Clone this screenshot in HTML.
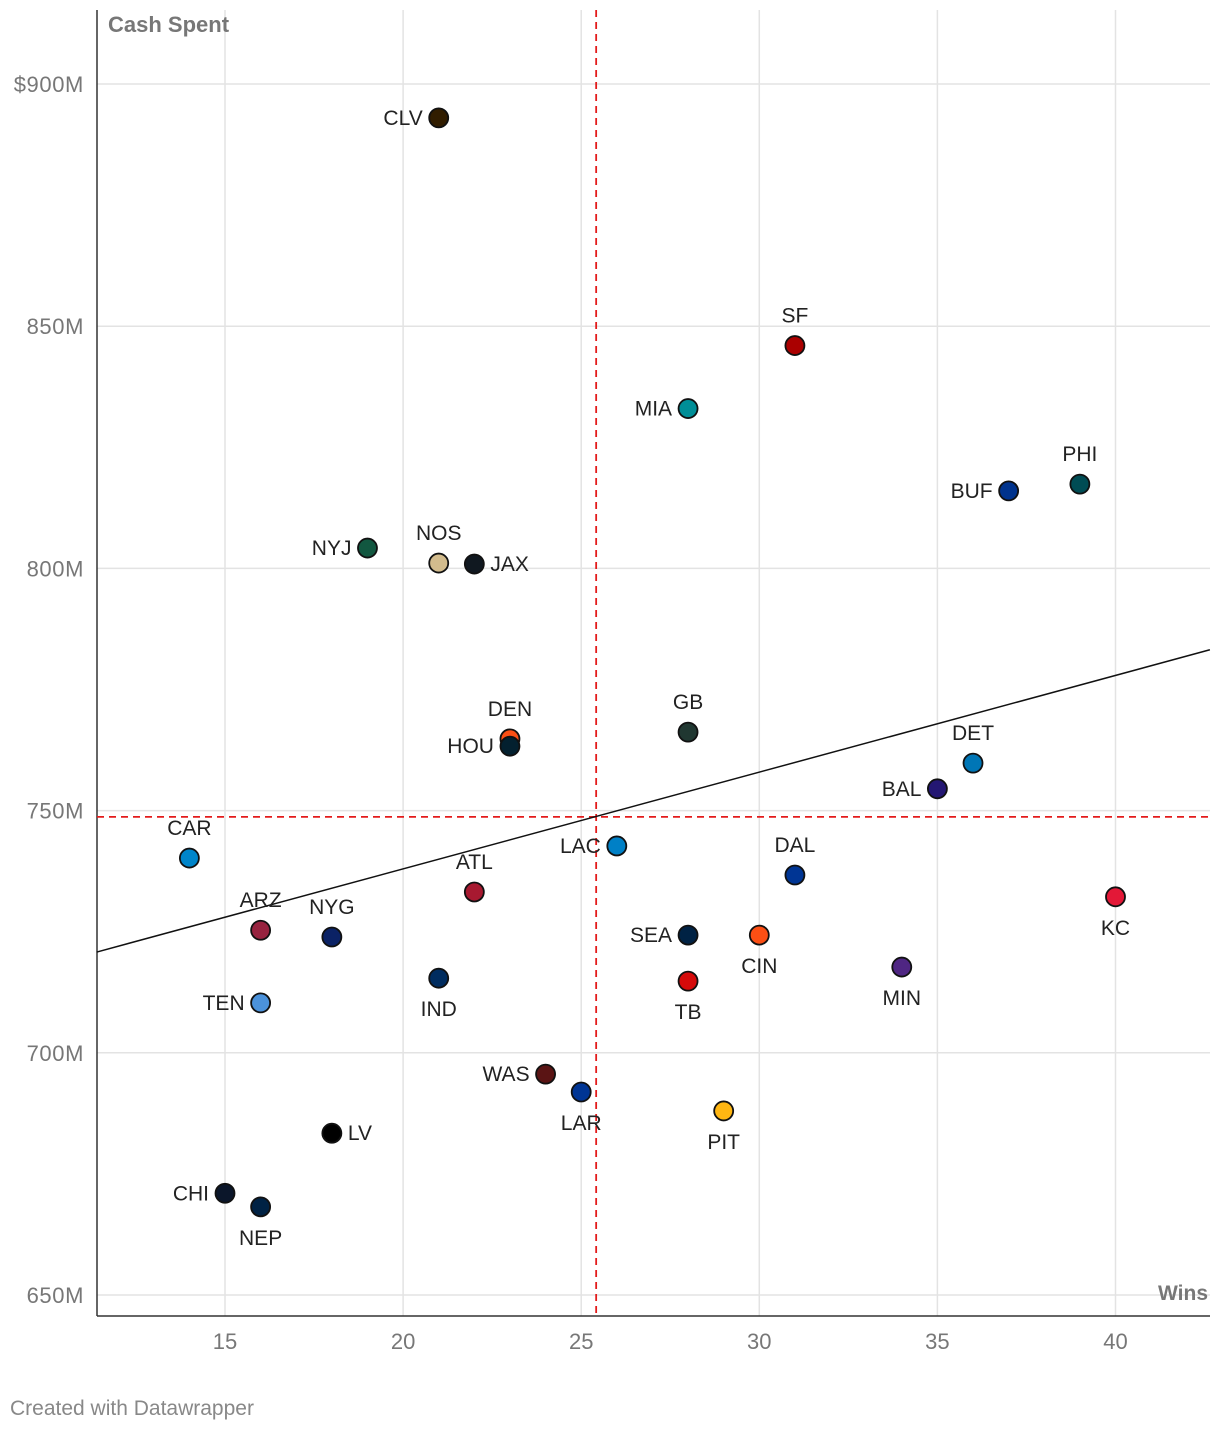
<!DOCTYPE html>
<html><head><meta charset="utf-8">
<style>
html,body{margin:0;padding:0;background:#fff;}
body{width:1220px;height:1432px;overflow:hidden;font-family:"Liberation Sans",Arial,sans-serif;}
svg text{font-family:"Liberation Sans",Arial,sans-serif;}
</style></head>
<body>
<svg id="chart" width="1220" height="1432"></svg>
<script>
const teams=["CLV","SF","MIA","PHI","BUF","NYJ","NOS","JAX","GB","DEN","HOU","DET","BAL","CAR","LAC","DAL","KC","ATL","ARZ","NYG","SEA","CIN","MIN","IND","TB","TEN","WAS","LAR","PIT","LV","CHI","NEP"];
const wins=[21,31,28,39,37,19,21,22,28,23,23,36,35,14,26,31,40,22,16,18,28,30,34,21,28,16,24,25,29,18,15,16];
const cash=[893,846,833,817.4,816,804.2,801.1,800.9,766.2,764.8,763.3,759.8,754.5,740.2,742.7,736.7,732.2,733.2,725.3,723.9,724.3,724.3,717.7,715.4,714.8,710.3,695.6,691.9,688,683.4,671,668.2];
const colors=["#311d00","#aa0000","#008e97","#004c54","#00338d","#125740","#d3bc8d","#101820","#203731","#fb4f14","#03202f","#0076b6","#241773","#0085ca","#0080c6","#003594","#e31837","#a71930","#97233f","#0b2265","#002244","#fb4f14","#4f2683","#002c5f","#d50a0a","#4b92db","#5a1414","#003594","#ffb612","#000000","#0b162a","#002244"];
const labelPos=["l","t","l","t","l","l","t","r","t","t","l","t","l","t","l","t","b","t","t","t","l","b","b","b","b","l","l","b","b","r","l","b"];
const xTicks=[15,20,25,30,35,40];
const yTicks=[650,700,750,800,850,900];
const yTickLabels=["650M","700M","750M","800M","850M","$900M"];
const trend=[[11.4,720.8],[42.65,783.2]];
const meanWins=25.42, meanCash=748.7;

const X=v=>225+(v-15)*35.62;
const Y=v=>84+(900-v)*4.844;
const L=97,R=1210,T=10,B=1316;
const svg=document.getElementById('chart');
const NS="http://www.w3.org/2000/svg";
function mk(tag,attrs,txt){const e=document.createElementNS(NS,tag);for(const k in attrs)e.setAttribute(k,attrs[k]);if(txt!==undefined)e.textContent=txt;svg.appendChild(e);return e;}

xTicks.forEach((t,i)=>{
 const g=mk('line',{x1:X(t),x2:X(t),y1:T,y2:B,stroke:'#e3e3e3','stroke-width':1.5});
 
 
 const tx=mk('text',{x:X(t),y:1349,'text-anchor':'middle','font-size':22,fill:'#777'},t);
 
 
});
yTicks.forEach((t,i)=>{
 const g=mk('line',{x1:L,x2:R,y1:Y(t),y2:Y(t),stroke:'#e3e3e3','stroke-width':1.5});
 
 
 const tx=mk('text',{x:84,y:Y(t)+8,'text-anchor':'end','font-size':22,'letter-spacing':'0.6',fill:'#777'},yTickLabels[i]);
 
 
});
let a=mk('line',{x1:L,x2:L,y1:T,y2:B,stroke:'#333','stroke-width':1.5});


a=mk('line',{x1:L,x2:R,y1:B,y2:B,stroke:'#333','stroke-width':1.5});



let t1=mk('text',{x:108,y:32,'font-size':22,'font-weight':'bold',fill:'#777'},'Cash Spent');


t1=mk('text',{x:1208,y:1300,'text-anchor':'end','font-size':21,'font-weight':'bold',fill:'#777'},'Wins');



let m=mk('line',{x1:X(meanWins),x2:X(meanWins),y1:T,y2:B,stroke:'#e31b1b','stroke-width':1.8,'stroke-dasharray':'7,5'});


m=mk('line',{x1:L,x2:R,y1:Y(meanCash),y2:Y(meanCash),stroke:'#e31b1b','stroke-width':1.8,'stroke-dasharray':'7,5'});


m=mk('line',{x1:X(trend[0][0]),y1:Y(trend[0][1]),x2:X(trend[1][0]),y2:Y(trend[1][1]),stroke:'#111','stroke-width':1.5});



teams.forEach((tm,i)=>{
 const cx=X(wins[i]),cy=Y(cash[i]);
 const c=mk('circle',{cx:cx,cy:cy,r:9.5,fill:colors[i],stroke:'#111','stroke-width':1.8});
 
 
 let x=cx,y=cy+7,anc='middle';
 const p=labelPos[i];
 if(p==='l'){x=cx-16;anc='end';}
 else if(p==='r'){x=cx+16;anc='start';}
 else if(p==='t'){y=cy-23;}
 else {y=cy+38;}
 const lb=mk('text',{x:x,y:y,'text-anchor':anc,'font-size':21,fill:'#222'},tm);
 
 
});
let cr=mk('text',{x:10,y:1415,'font-size':21,fill:'#888'},'Created with Datawrapper');


</script>
</body></html>
